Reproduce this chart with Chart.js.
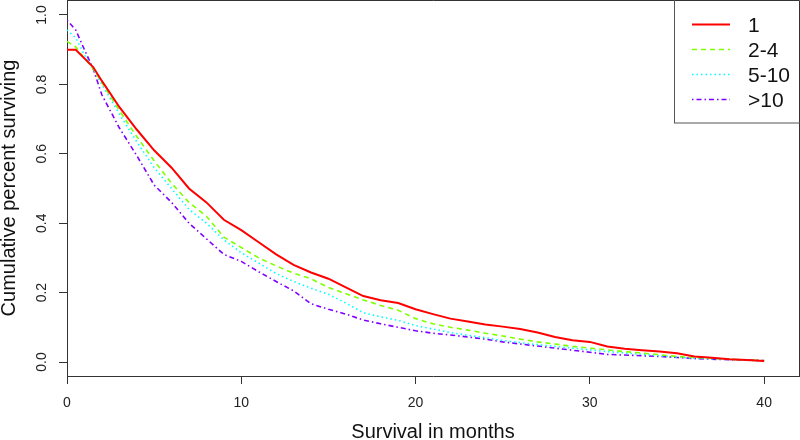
<!DOCTYPE html>
<html>
<head>
<meta charset="utf-8">
<script src="https://cdn.jsdelivr.net/npm/chart.js@4.4.1/dist/chart.umd.min.js"></script>
<style>
  html, body { margin: 0; padding: 0; background: #fff; }
  #wrap { width: 800px; height: 440px; }
</style>
</head>
<body>
<div id="wrap"><canvas id="SurvivalChart" width="800" height="440"></canvas></div>
<script>
// months since diagnosis (x) and survival fraction for each group
const months = [0, 0.5, 1, 1.5, 2, 3, 4, 5, 6, 7, 8, 9, 10, 11, 12, 13, 14, 15, 16, 17, 18, 19, 20,
  21, 22, 23, 24, 25, 26, 27, 28, 29, 30, 31, 32, 33, 34, 35, 36, 37, 38, 39, 40];

const surv1 = [0.90, 0.90, 0.875, 0.85, 0.81, 0.735, 0.67, 0.61, 0.56, 0.50, 0.46, 0.41, 0.38,
  0.345, 0.31, 0.28, 0.258, 0.24, 0.215, 0.19, 0.178, 0.17, 0.152, 0.138, 0.125, 0.117, 0.108,
  0.102, 0.095, 0.085, 0.072, 0.063, 0.058, 0.045, 0.038, 0.034, 0.03, 0.025, 0.016, 0.012,
  0.008, 0.006, 0.003];
const surv2to4 = [0.924, 0.908, 0.876, 0.845, 0.805, 0.725, 0.65, 0.58, 0.515, 0.46, 0.42, 0.36,
  0.33, 0.30, 0.277, 0.256, 0.24, 0.215, 0.197, 0.179, 0.163, 0.149, 0.125, 0.11, 0.10, 0.092,
  0.083, 0.075, 0.066, 0.058, 0.052, 0.045, 0.04, 0.035, 0.03, 0.026, 0.021, 0.016, 0.013,
  0.011, 0.008, 0.006, 0.004];
const surv5to10 = [0.957, 0.934, 0.885, 0.845, 0.80, 0.715, 0.635, 0.56, 0.50, 0.44, 0.40, 0.352,
  0.315, 0.285, 0.255, 0.232, 0.213, 0.195, 0.17, 0.142, 0.13, 0.12, 0.105, 0.095, 0.085, 0.077,
  0.07, 0.062, 0.056, 0.05, 0.045, 0.04, 0.035, 0.03, 0.026, 0.022, 0.018, 0.014, 0.011, 0.009,
  0.007, 0.005, 0.003];
const survOver10 = [0.985, 0.957, 0.90, 0.845, 0.77, 0.675, 0.595, 0.51, 0.46, 0.40, 0.355, 0.31,
  0.29, 0.26, 0.232, 0.205, 0.168, 0.152, 0.138, 0.121, 0.11, 0.10, 0.09, 0.083, 0.078, 0.072,
  0.066, 0.058, 0.052, 0.046, 0.04, 0.034, 0.028, 0.022, 0.02, 0.018, 0.016, 0.013, 0.01,
  0.008, 0.007, 0.006, 0.004];

const groupLabels = ['1', '2-4', '5-10', '>10'];
const xTickValues = [0, 10, 20, 30, 40];
const yTickValues = [0, 0.2, 0.4, 0.6, 0.8, 1.0];
const yTickLabels = ['0.0', '0.2', '0.4', '0.6', '0.8', '1.0'];

const FONT = '"Liberation Sans", Arimo, Arial, sans-serif';
const AXIS = '#333';

function toPoints(vals) {
  return months.map((m, i) => ({x: m, y: vals[i]}));
}

const styles = [
  {color: '#ff0000', dash: [], width: 2},
  {color: '#80ff00', dash: [5, 4], width: 1.6},
  {color: '#00ffff', dash: [1.5, 3], width: 1.6},
  {color: '#8000ff', dash: [1.5, 3, 5, 3], width: 1.6}
];
const seriesList = [surv1, surv2to4, surv5to10, survOver10];

// box on top/right, rotated y labels and the R style legend
const decorPlugin = {
  id: 'decor',
  afterDraw(chart) {
    const ctx = chart.ctx;
    const a = chart.chartArea;
    ctx.save();
    ctx.strokeStyle = AXIS;
    ctx.lineWidth = 1;
    ctx.beginPath();
    ctx.moveTo(a.left, a.top + 0.5);
    ctx.lineTo(a.right + 0.5, a.top + 0.5);
    ctx.lineTo(a.right + 0.5, a.bottom);
    ctx.stroke();

    const ys = chart.scales.y;
    ctx.fillStyle = '#222';
    ctx.font = '14px ' + FONT;
    ctx.textAlign = 'center';
    ctx.textBaseline = 'middle';
    yTickValues.forEach((v, i) => {
      ctx.save();
      ctx.translate(42.5, ys.getPixelForValue(v));
      ctx.rotate(-Math.PI / 2);
      ctx.fillText(yTickLabels[i], 0, 0);
      ctx.restore();
    });

    // legend
    ctx.strokeStyle = '#555';
    ctx.strokeRect(674.5, -1, 140, 124);
    chart.data.datasets.forEach((ds, i) => {
      const y = 24.5 + i * 25;
      ctx.beginPath();
      ctx.setLineDash(ds.borderDash);
      ctx.strokeStyle = ds.borderColor;
      ctx.lineWidth = ds.borderWidth;
      ctx.moveTo(692, y);
      ctx.lineTo(730, y);
      ctx.stroke();
      ctx.setLineDash([]);
      ctx.fillStyle = '#111';
      ctx.font = '21px ' + FONT;
      ctx.textAlign = 'left';
      ctx.textBaseline = 'middle';
      ctx.fillText(ds.label, 748, y + 1.5);
    });
    ctx.restore();
  }
};

function initiateSurvivalChart() {
  const grapharea = document.getElementById('SurvivalChart').getContext('2d');
  let survivalChart = new Chart(grapharea, {
    type: 'line',
    data: {
      datasets: seriesList.map((vals, i) => ({
        label: groupLabels[i],
        data: toPoints(vals),
        borderColor: styles[i].color,
        borderDash: styles[i].dash,
        borderWidth: styles[i].width,
        pointRadius: 0,
        tension: 0,
        fill: false
      }))
    },
    options: {
      responsive: false,
      animation: false,
      layout: {padding: {left: 0, right: 1, top: 0, bottom: 0}},
      plugins: {legend: {display: false}, tooltip: {enabled: false}},
      scales: {
        x: {
          type: 'linear',
          min: 0,
          max: 42,
          afterBuildTicks: (s) => { s.ticks = xTickValues.map(v => ({value: v})); },
          afterFit: (s) => { s.height = 64; },
          grid: {drawOnChartArea: false, drawTicks: true, tickLength: 8, color: AXIS},
          border: {display: true, color: AXIS},
          ticks: {color: '#222', padding: 11, font: {family: FONT, size: 14}, maxRotation: 0},
          title: {
            display: true,
            text: 'Survival in months',
            color: '#111',
            font: {family: FONT, size: 20, lineHeight: 0.8},
            padding: {top: 0, bottom: 0}
          }
        },
        y: {
          type: 'linear',
          min: -0.0403,
          max: 1.0432,
          afterBuildTicks: (s) => { s.ticks = yTickValues.map(v => ({value: v})); },
          afterFit: (s) => { s.width = 67; },
          grid: {drawOnChartArea: false, drawTicks: true, tickLength: 8, color: AXIS},
          border: {display: true, color: AXIS},
          ticks: {display: false},
          title: {
            display: true,
            text: 'Cumulative percent surviving',
            color: '#111',
            font: {family: FONT, size: 20, lineHeight: 0.9},
            padding: {top: 0, bottom: 0}
          }
        }
      }
    },
    plugins: [decorPlugin]
  });
  return survivalChart;
}

window.survivalChart = initiateSurvivalChart();
</script>
</body>
</html>
